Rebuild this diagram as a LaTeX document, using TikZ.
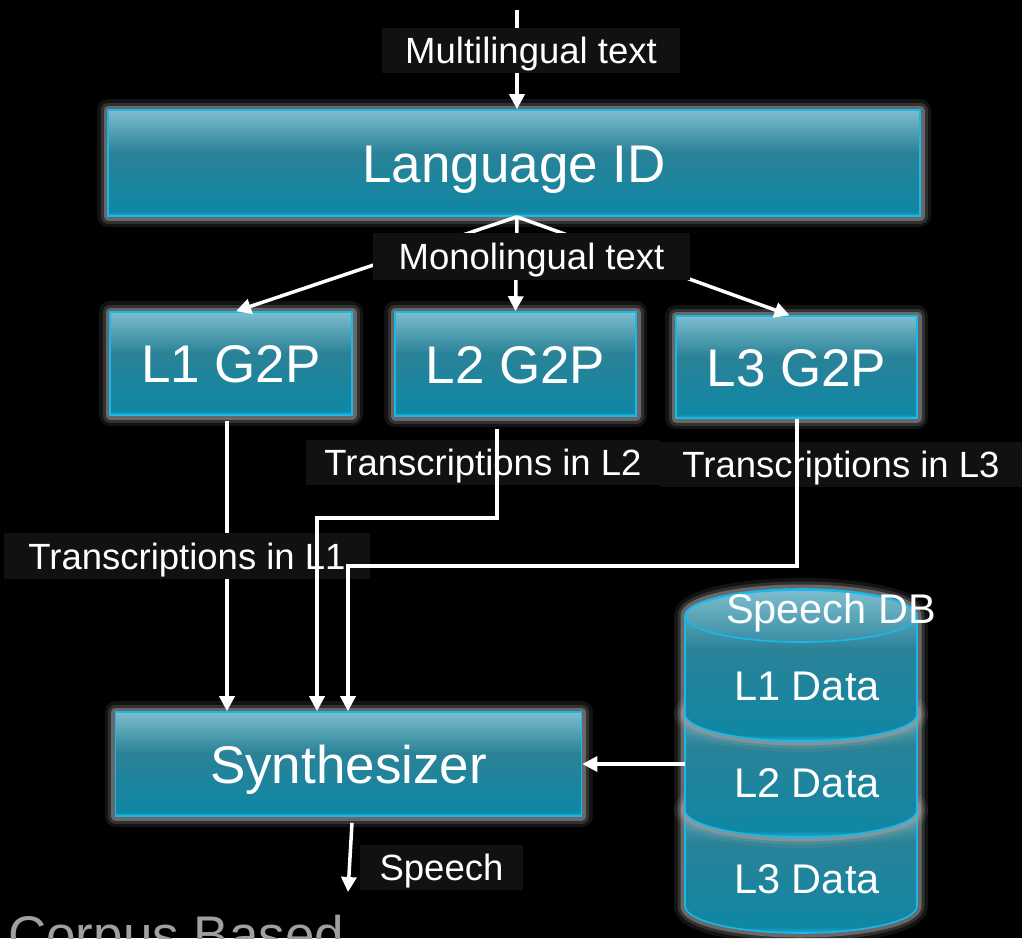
\documentclass[tikz,border=0pt]{standalone}
\usepackage{fontspec}
\setmainfont{Liberation Sans}
\usetikzlibrary{arrows.meta,calc}

\definecolor{glasstop}{HTML}{7DBDCE}
\definecolor{glassmid}{HTML}{2A8297}
\definecolor{glassbot}{HTML}{0F87A5}
\definecolor{glassedge}{HTML}{16AFDA}
\definecolor{lidbot}{HTML}{3A8EA4}
\definecolor{rim}{HTML}{1AB8E8}
\definecolor{haze}{HTML}{A0A0A0}
\definecolor{tagbg}{HTML}{111111}
\definecolor{captiongray}{HTML}{A0A0A0}

% glassy teal fill: light top, darker middle, cyan lip at the bottom
\pgfdeclareverticalshading{tealglass}{100bp}{%
  color(0bp)=(glassedge); color(25bp)=(glassedge); color(27bp)=(glassbot);
  color(55bp)=(glassmid); color(75bp)=(glasstop); color(100bp)=(glasstop)}

\tikzset{
  glow/.style={
    preaction={draw=haze, draw opacity=0.12, line width=22pt, line join=round},
    preaction={draw=haze, draw opacity=0.22, line width=15pt, line join=round},
    preaction={draw=haze, draw opacity=0.50, line width=9pt, line join=round}},
  glass/.style={glow, shading=tealglass, draw=rim, line width=1.6pt},
  stage/.style={glass, rectangle, inner sep=0pt, text=white,
    font=\fontsize{53}{60}\selectfont, text height=38pt, text depth=0pt},
  tag/.style={fill=tagbg, text=white, inner sep=0pt,
    font=\fontsize{36.5}{42}\selectfont, text height=26pt, text depth=0pt},
  dblabel/.style={anchor=base, text=white, inner sep=0pt,
    font=\fontsize{41.5}{48}\selectfont},
  flow/.style={draw=white, line width=3.5pt, -{Triangle[width=15pt,length=15pt]}},
}

% one slice of the database cylinder: top rim centre y #1, bottom rim centre y #2
\newcommand{\dbslice}[2]{%
  \path[glass] (685,#1) -- (685,#2)
    arc[start angle=180, end angle=360, x radius=116pt, y radius=27pt]
    -- (917,#1)
    arc[start angle=0, end angle=180, x radius=116pt, y radius=27pt] -- cycle;}

\begin{document}
\begin{tikzpicture}[x=1pt, y=-1pt]
\useasboundingbox (0,0) rectangle (1022,938);
\clip (0,0) rectangle (1022,938);
\fill[black] (0,0) rectangle (1022,938);

% processing stages
\node[stage, minimum width=812pt, minimum height=106pt] (lang) at (514,163) {Language ID};
\node[stage, minimum width=242pt, minimum height=103pt] (g1) at (231,363.5) {L1 G2P};
\node[stage, minimum width=241pt, minimum height=104pt] (g2) at (515.5,364) {L2 G2P};
\node[stage, minimum width=241pt, minimum height=102pt] (g3) at (796.5,367) {L3 G2P};
\node[stage, minimum width=466pt, minimum height=104pt] (synth) at (348.5,764) {Synthesizer};

% input text
\coordinate (src) at (517,10);
\draw[flow] (src) -- (src |- lang.north);
\node[tag, minimum width=298pt, minimum height=45pt] (tagmulti) at (531,50.5) {Multilingual text};

% language split
\draw[flow] ([xshift=3pt]lang.south) -- ([xshift=5pt]g1.north);
\draw[flow] ([xshift=3pt]lang.south) -- (g2.north);
\draw[flow] ([xshift=3pt]lang.south) -- ([xshift=-7pt]g3.north);
\node[tag, minimum width=317pt, minimum height=47pt] (tagmono) at (531.5,256.5) {Monolingual text};

% transcriptions into the synthesizer
\draw[flow] ([xshift=-4pt,yshift=-5pt]g1.south) -- ([xshift=-4pt]g1.south |- synth.north);
\node[tag, minimum width=366pt, minimum height=46pt] (tagl1) at (187,556) {Transcriptions in L1};
\node[tag, minimum width=354pt, minimum height=45pt] (tagl2) at (483,462.5) {Transcriptions in L2};
\node[tag, minimum width=362pt, minimum height=45pt] (tagl3) at (841,464.5) {Transcriptions in L3};
\coordinate (turn2) at (317,518);
\coordinate (turn3) at (348,566);
\draw[flow] ([xshift=-18.5pt,yshift=-12pt]g2.south) |- (turn2) -- (turn2 |- synth.north);
\draw[flow] ([xshift=0.5pt]g3.south) |- (turn3) -- (turn3 |- synth.north);

% speech database
\dbslice{810}{906}
\dbslice{714}{810}
\dbslice{616}{714}
\path[draw=rim, line width=1.6pt, top color=glasstop, bottom color=lidbot]
  (801,616) ellipse [x radius=116pt, y radius=26pt];
\node[dblabel] (dbtitle) at (831,623) {Speech DB};
\node[dblabel] (d1) at (807,700) {L1 Data};
\node[dblabel] (d2) at (807,797) {L2 Data};
\node[dblabel] (d3) at (807,893) {L3 Data};
\coordinate (dbport) at (685,764);
\draw[flow] (dbport) -- (synth.east);

% output
\coordinate (speechout) at (348,892);
\draw[flow] ([xshift=3.5pt,yshift=-6pt]synth.south) -- (speechout);
\node[tag, minimum width=163pt, minimum height=45pt] (tagspeech) at (441.5,867.5) {Speech};

% caption running off the bottom edge
\node[anchor=base west, inner sep=0pt, text=captiongray,
  font=\fontsize{53}{60}\selectfont] (caption) at (8,953) {Corpus Based};
\end{tikzpicture}
\end{document}
